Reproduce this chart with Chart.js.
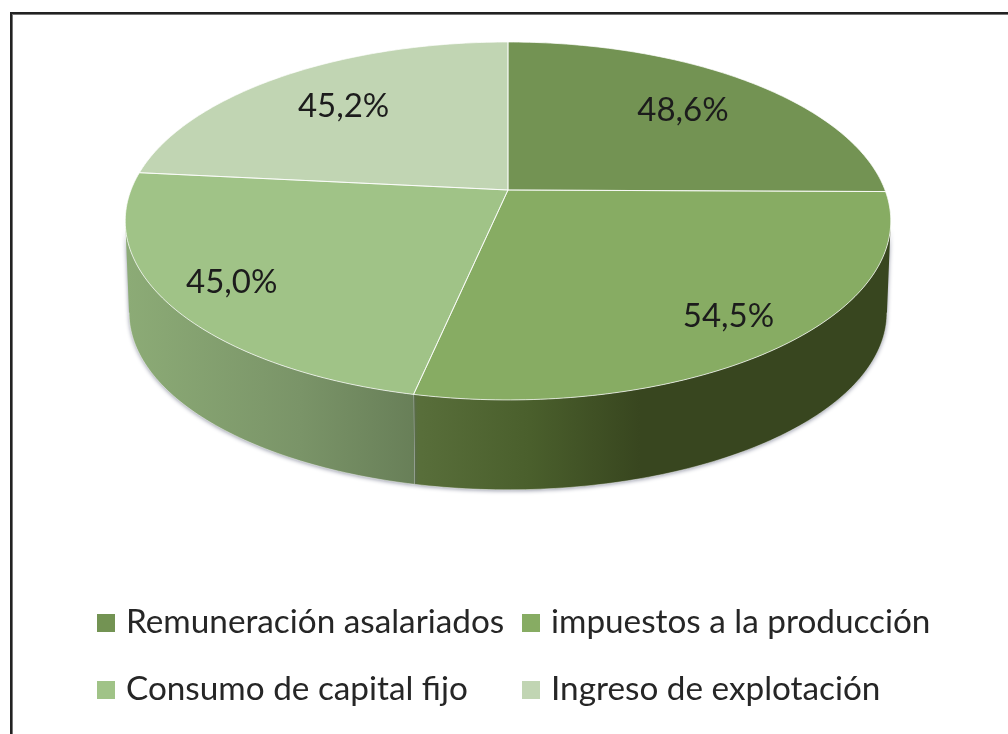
<!DOCTYPE html>
<html>
<head>
<meta charset="utf-8">
<script src="https://cdn.jsdelivr.net/npm/chart.js@4"></script>
<style>
  html, body { margin: 0; padding: 0; background: #fff; }
  canvas { display: block; }
</style>
</head>
<body>
<canvas id="chart" width="1008" height="734"></canvas>
<script>
// data
const categories = ['Remuneración asalariados', 'impuestos a la producción', 'Consumo de capital fijo', 'Ingreso de explotación'];
const values = [48.6, 54.5, 45.0, 45.2];
const topColors = ['#739353', '#87AC63', '#A0C387', '#C1D5B3'];

// where the label sits along the slice's middle, 1 = rim
const labelRadius = [0.71, 0.83, 0.83, 0.71];

// gradient for the visible side wall of each slice: [x, colour]
const wallStops = [
  [[880, '#38461F'], [890, '#38461F']],
  [[414, '#596F3B'], [530, '#4A5F2C'], [640, '#38461F'], [890, '#38461F']],
  [[127, '#8CAB76'], [300, '#7A9468'], [414, '#687F58']],
  [[127, '#8CAB76'], [140, '#8CAB76']]
];

// perspective of the disc
const view = { x: 508, y: 190, a: 377, b: 173.6, p: 0.173, depth: 92, lower: 0.99 };
const legendBoxes = [[97, 614], [522, 614], [97, 681], [522, 681]];
const legendFont = '33.3px Lato';
const labelFont = '33px Lato';

function project(angle, r, lowerRing) {
  const X = Math.cos(angle) * r, Y = Math.sin(angle) * r;
  const d = 1 - view.p * Y;
  const s = lowerRing ? view.lower : 1;
  return {
    x: view.x + s * view.a * X / d,
    y: view.y + s * view.b * Y / d + (lowerRing ? view.depth : 0)
  };
}

function ringPath(ctx, from, to, lowerRing, first) {
  const n = Math.max(2, Math.ceil(Math.abs(to - from) * 60));
  for (let i = 0; i <= n; i++) {
    const pt = project(from + (to - from) * i / n, 1, lowerRing);
    if (i === 0 && first) ctx.moveTo(pt.x, pt.y);
    else ctx.lineTo(pt.x, pt.y);
  }
}

const pie3d = {
  id: 'pie3d',
  // the arcs are drawn here, tilted, from the angles the library worked out
  beforeDatasetsDraw(chart) {
    const ctx = chart.ctx;
    const arcs = chart.getDatasetMeta(0).data;
    // the wall only shows between the two points where the rim turns back
    const tangent = Math.asin(view.p);

    ctx.save();
    ctx.fillStyle = '#fff';
    ctx.fillRect(0, 0, chart.width, chart.height);

    // frame, only left and top
    ctx.fillStyle = '#777';
    ctx.fillRect(12, 14, 996, 1);
    ctx.fillRect(12, 14, 1, 720);
    ctx.fillStyle = '#222';
    ctx.fillRect(10, 12, 998, 2);
    ctx.fillRect(10, 12, 2, 722);

    // side wall
    arcs.forEach((arc, i) => {
      const from = Math.max(arc.startAngle, tangent), to = Math.min(arc.endAngle, Math.PI - tangent);
      if (to <= from) return;
      const stops = wallStops[i];
      const x0 = stops[0][0], x1 = stops[stops.length - 1][0];
      const grad = ctx.createLinearGradient(x0, 0, x1, 0);
      stops.forEach(s => grad.addColorStop((s[0] - x0) / (x1 - x0), s[1]));
      ctx.save();
      ctx.shadowColor = 'rgba(90,95,120,0.65)';
      ctx.shadowBlur = 4;
      ctx.shadowOffsetY = 1;
      ctx.beginPath();
      ringPath(ctx, from, to, false, true);
      ringPath(ctx, to, from, true, false);
      ctx.closePath();
      ctx.fillStyle = grad;
      ctx.fill();
      ctx.restore();
      // light edge along the bottom and between slices
      ctx.beginPath();
      ringPath(ctx, from, to, true, true);
      ctx.strokeStyle = 'rgba(255,255,255,0.45)';
      ctx.lineWidth = 1;
      ctx.stroke();
      if (arc.endAngle < Math.PI - tangent) {
        const a = project(to, 1, false), b = project(to, 1, true);
        ctx.beginPath();
        ctx.moveTo(a.x, a.y);
        ctx.lineTo(b.x, b.y);
        ctx.strokeStyle = 'rgba(255,255,255,0.7)';
        ctx.stroke();
      }
    });

    // top face
    arcs.forEach(arc => {
      ctx.beginPath();
      ctx.moveTo(view.x, view.y);
      ringPath(ctx, arc.startAngle, arc.endAngle, false, false);
      ctx.closePath();
      ctx.fillStyle = arc.options.backgroundColor;
      ctx.fill();
    });
    arcs.forEach(arc => {
      ctx.beginPath();
      ctx.moveTo(view.x, view.y);
      ringPath(ctx, arc.startAngle, arc.endAngle, false, false);
      ctx.closePath();
      ctx.strokeStyle = arc.options.borderColor;
      ctx.lineWidth = arc.options.borderWidth;
      ctx.stroke();
    });

    // value labels, a little soft like the source image
    ctx.filter = 'blur(0.5px)';
    ctx.font = labelFont;
    ctx.fillStyle = '#1c1c1c';
    ctx.textAlign = 'center';
    ctx.textBaseline = 'middle';
    arcs.forEach((arc, i) => {
      const mid = (arc.startAngle + arc.endAngle) / 2;
      const pt = project(mid, labelRadius[i], false);
      ctx.fillText(values[i].toFixed(1).replace('.', ',') + '%', pt.x, pt.y);
    });

    // legend
    ctx.font = legendFont;
    ctx.textAlign = 'left';
    ctx.textBaseline = 'alphabetic';
    categories.forEach((name, i) => {
      const b = legendBoxes[i];
      ctx.fillStyle = topColors[i];
      ctx.fillRect(b[0], b[1], 18, 18);
      ctx.fillStyle = '#262626';
      ctx.fillText(name, b[0] + 29, b[1] + 19);
    });
    ctx.restore();
    return false;
  }
};

new Chart(document.getElementById('chart'), {
  type: 'pie',
  data: {
    labels: categories,
    datasets: [{
      data: values,
      backgroundColor: topColors,
      borderColor: 'rgba(255,255,255,0.7)',
      borderWidth: 1
    }]
  },
  options: {
    responsive: false,
    animation: false,
    plugins: { legend: { display: false }, tooltip: { enabled: false } }
  },
  plugins: [pie3d]
});
</script>
</body>
</html>
